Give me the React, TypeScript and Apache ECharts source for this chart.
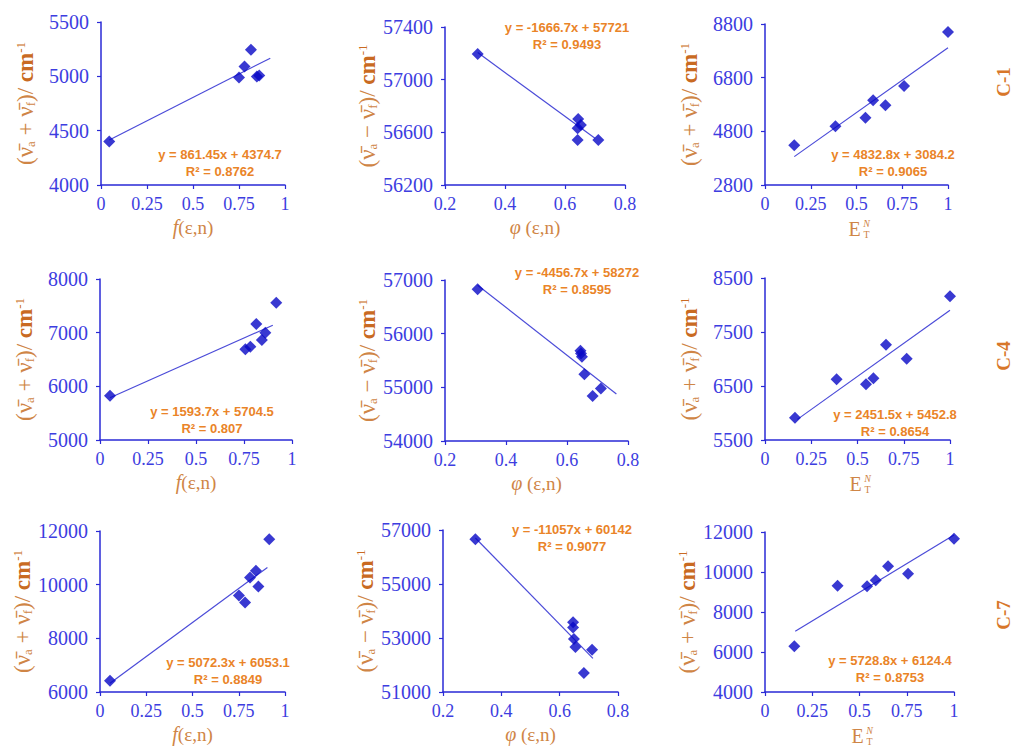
import React, { useEffect, useRef } from "react";
import * as echarts from "echarts";

// ---------- data ----------
// C-1
const fX_C1 = [0.045, 0.75, 0.78, 0.815, 0.847, 0.86];
const fY_C1 = [4400, 4990, 5090, 5244, 4998, 5008];
const phiX_C1 = [0.309, 0.644, 0.653, 0.642, 0.642, 0.711];
const phiY_C1 = [57195, 56702, 56656, 56631, 56542, 56542];
const etX_C1 = [0.16, 0.385, 0.549, 0.591, 0.658, 0.76, 1.0];
const etY_C1 = [4280, 4990, 5310, 5960, 5775, 6490, 8500];
// C-4
const fX_C4 = [0.052, 0.757, 0.783, 0.814, 0.843, 0.861, 0.918];
const fY_C4 = [5826, 6689, 6739, 7161, 6863, 7000, 7559];
const phiX_C4 = [0.307, 0.644, 0.646, 0.649, 0.657, 0.684, 0.711];
const phiY_C4 = [56826, 55681, 55630, 55569, 55246, 54840, 54977];
const etX_C4 = [0.162, 0.387, 0.546, 0.586, 0.654, 0.766, 1.0];
const etY_C4 = [5914, 6626, 6533, 6645, 7263, 7003, 8160];
// C-7
const fX_C7 = [0.054, 0.751, 0.784, 0.811, 0.843, 0.856, 0.915];
const fY_C7 = [6421, 9594, 9333, 10263, 10523, 9929, 11688];
const phiX_C7 = [0.311, 0.646, 0.646, 0.649, 0.654, 0.683, 0.711];
const phiY_C7 = [56655, 53587, 53390, 52960, 52663, 51700, 52564];
const etX_C7 = [0.155, 0.384, 0.54, 0.586, 0.651, 0.757, 1.0];
const etY_C7 = [6283, 9317, 9283, 9583, 10283, 9917, 11667];

// axis ranges per panel (row-major)
const xMins = [0, 0.2, 0, 0, 0.2, 0, 0, 0.2, 0];
const xMaxs = [1, 0.8, 1, 1, 0.8, 1, 1, 0.8, 1];
const xIntervals = [0.25, 0.2, 0.25, 0.25, 0.2, 0.25, 0.25, 0.2, 0.25];
const yMins = [4000, 56200, 2800, 5000, 54000, 5500, 6000, 51000, 4000];
const yMaxs = [5500, 57400, 8800, 8000, 57000, 8500, 12000, 57000, 12000];
const yIntervals = [500, 400, 2000, 1000, 1000, 1000, 2000, 2000, 2000];

// linear trendlines
const slopes = [861.45, -1666.7, 4832.8, 1593.7, -4456.7, 2451.5, 5072.3, -11057, 5728.8];
const intercepts = [4374.7, 57721, 3084.2, 5704.5, 58272, 5452.8, 6053.1, 60142, 6124.4];
const rSquared = ["0.8762", "0.9493", "0.9065", "0.807", "0.8595", "0.8654", "0.8849", "0.9077", "0.8753"];
const trendFrom = [0.045, 0.309, 0.16, 0.052, 0.307, 0.175, 0.054, 0.311, 0.16];
const trendTo = [0.92, 0.7, 1.0, 0.9, 0.762, 1.0, 0.905, 0.714, 1.0];

const rowLabels = ["C-1", "C-4", "C-7"];

// ---------- layout / style ----------
const grids = [
  { left: 101, top: 22, width: 184, height: 163 },
  { left: 445, top: 27, width: 180, height: 158 },
  { left: 765, top: 24, width: 183, height: 161 },
  { left: 100, top: 279, width: 192, height: 161 },
  { left: 445, top: 280, width: 183, height: 161 },
  { left: 765, top: 278, width: 185, height: 162 },
  { left: 100, top: 531, width: 185, height: 161 },
  { left: 443, top: 530, width: 175, height: 162 },
  { left: 765, top: 532, width: 189, height: 160 },
];
const eqPos = [
  [220, 154], [567, 27], [893, 154],
  [212, 411], [577, 272], [895, 414],
  [228, 662], [572, 529], [890, 660],
];
const rowLabelPos = [[1003, 82], [1003, 356], [1003, 615]];

const SERIF = "'Liberation Serif', 'Times New Roman', 'DejaVu Serif', serif";
const SANS = "'Liberation Sans', Arial, sans-serif";
const AXIS_BLUE = "#2a2ad6";
const LABEL_BLUE = "#3d3de0";
const MARK_BLUE = "#0808c6";
const TREND_BLUE = "#4b4bd8";
const EQ_ORANGE = "#ea8428";
const TITLE_ORANGE = "#cf8546";
const ROW_ORANGE = "#d8772a";

export default function App() {
  const ref = useRef<HTMLDivElement>(null);
  useEffect(() => {
    if (!ref.current) return;
    const chart = echarts.init(ref.current, null, { renderer: "svg" });

    const xs = [fX_C1, phiX_C1, etX_C1, fX_C4, phiX_C4, etX_C4, fX_C7, phiX_C7, etX_C7];
    const ys = [fY_C1, phiY_C1, etY_C1, fY_C4, phiY_C4, etY_C4, fY_C7, phiY_C7, etY_C7];

    const yRich = {
      p: { fontSize: 23, fontFamily: SERIF, color: TITLE_ORANGE },
      s: { fontSize: 13, fontFamily: SERIF, color: TITLE_ORANGE, verticalAlign: "bottom" },
      c: { fontSize: 23, fontFamily: SERIF, color: "#c96a22", fontWeight: "bold" },
      sup: { fontSize: 13, fontFamily: SERIF, color: "#c96a22", verticalAlign: "top" },
    };
    const yNamePlus = "{p|(ν̄}{s|a}{p| + ν̄}{s|f}{p|)/ }{c|cm}{sup|-1}";
    const yNameMinus = "{p|(ν̄}{s|a}{p| − ν̄}{s|f}{p|)/ }{c|cm}{sup|-1}";
    const xRich = {
      i: { fontSize: 20, fontFamily: SERIF, fontStyle: "italic", color: TITLE_ORANGE },
      n: { fontSize: 19, fontFamily: SERIF, color: TITLE_ORANGE },
    };
    const plain = (v: number) => String(v);

    const xAxis: any[] = [];
    const yAxis: any[] = [];
    const series: any[] = [];
    const graphic: any[] = [];

    for (let i = 0; i < 9; i++) {
      const col = i % 3;
      xAxis.push({
        type: "value",
        gridIndex: i,
        min: xMins[i],
        max: xMaxs[i],
        interval: xIntervals[i],
        name: col === 0 ? "{i|f}{n|(ε,n)}" : col === 1 ? "{i|φ}{n| (ε,n)}" : "",
        nameLocation: "middle",
        nameGap: 32,
        nameTextStyle: { rich: xRich },
        axisLine: { show: true, onZero: false, lineStyle: { color: AXIS_BLUE, width: 1.5 } },
        axisTick: { show: true, inside: false, length: 4, lineStyle: { color: AXIS_BLUE, width: 1.2 } },
        axisLabel: { color: LABEL_BLUE, fontFamily: SERIF, fontSize: 18, margin: 10, formatter: plain },
        splitLine: { show: false },
      });
      yAxis.push({
        type: "value",
        gridIndex: i,
        min: yMins[i],
        max: yMaxs[i],
        interval: yIntervals[i],
        name: col === 1 ? yNameMinus : yNamePlus,
        nameLocation: "middle",
        nameRotate: 90,
        nameGap: 64,
        nameTextStyle: { rich: yRich },
        axisLine: { show: true, onZero: false, lineStyle: { color: AXIS_BLUE, width: 1.5 } },
        axisTick: { show: true, inside: false, length: 4, lineStyle: { color: AXIS_BLUE, width: 1.2 } },
        axisLabel: { color: LABEL_BLUE, fontFamily: SERIF, fontSize: 20, margin: 12, formatter: plain },
        splitLine: { show: false },
      });
      series.push({
        type: "line",
        xAxisIndex: i,
        yAxisIndex: i,
        data: [trendFrom[i], trendTo[i]].map((x) => [x, slopes[i] * x + intercepts[i]]),
        symbol: "none",
        lineStyle: { color: TREND_BLUE, width: 1.2 },
        z: 2,
        silent: true,
      });
      series.push({
        type: "scatter",
        xAxisIndex: i,
        yAxisIndex: i,
        data: xs[i].map((x, j) => [x, ys[i][j]]),
        symbol: "diamond",
        symbolSize: 12,
        itemStyle: { color: MARK_BLUE },
        z: 3,
      });

      // trendline equation labels
      const [ex, ey] = eqPos[i];
      graphic.push({
        type: "text",
        x: ex,
        y: ey,
        style: {
          text: `y = ${slopes[i]}x + ${intercepts[i]}`,
          fill: EQ_ORANGE,
          font: `bold 13px ${SANS}`,
          align: "center",
          verticalAlign: "middle",
          textAlign: "center",
          textVerticalAlign: "middle",
        },
      });
      graphic.push({
        type: "text",
        x: ex,
        y: ey + 17,
        style: {
          text: `R² = ${rSquared[i]}`,
          fill: EQ_ORANGE,
          font: `bold 13px ${SANS}`,
          align: "center",
          verticalAlign: "middle",
          textAlign: "center",
          textVerticalAlign: "middle",
        },
      });

      // E_T^N axis name for third column
      if (col === 2) {
        const g = grids[i];
        const cx = g.left + g.width / 2;
        const cy = g.top + g.height + 44;
        graphic.push({
          type: "text",
          x: cx - 2,
          y: cy,
          style: { text: "E", fill: TITLE_ORANGE, font: `20px ${SERIF}`, align: "center", verticalAlign: "middle", textAlign: "center", textVerticalAlign: "middle" },
        });
        graphic.push({
          type: "text",
          x: cx + 10,
          y: cy - 6,
          style: { text: "N", fill: TITLE_ORANGE, font: `italic 10px ${SERIF}`, align: "center", verticalAlign: "middle", textAlign: "center", textVerticalAlign: "middle" },
        });
        graphic.push({
          type: "text",
          x: cx + 10,
          y: cy + 5,
          style: { text: "T", fill: TITLE_ORANGE, font: `10px ${SERIF}`, align: "center", verticalAlign: "middle", textAlign: "center", textVerticalAlign: "middle" },
        });
      }
    }

    rowLabels.forEach((lab, r) => {
      graphic.push({
        type: "text",
        x: rowLabelPos[r][0],
        y: rowLabelPos[r][1],
        rotation: Math.PI / 2,
        style: {
          text: lab,
          fill: ROW_ORANGE,
          font: `bold 19px ${SERIF}`,
          align: "center",
          verticalAlign: "middle",
          textAlign: "center",
          textVerticalAlign: "middle",
        },
      });
    });

    chart.setOption({
      animation: false,
      backgroundColor: "#ffffff",
      grid: grids.map((g) => ({ ...g, containLabel: false })),
      xAxis,
      yAxis,
      series,
      graphic,
    });
    return () => chart.dispose();
  }, []);

  return (
    <div
      ref={ref}
      style={{ position: "absolute", left: 0, top: 0, width: 1015, height: 751, background: "#fff" }}
    />
  );
}
